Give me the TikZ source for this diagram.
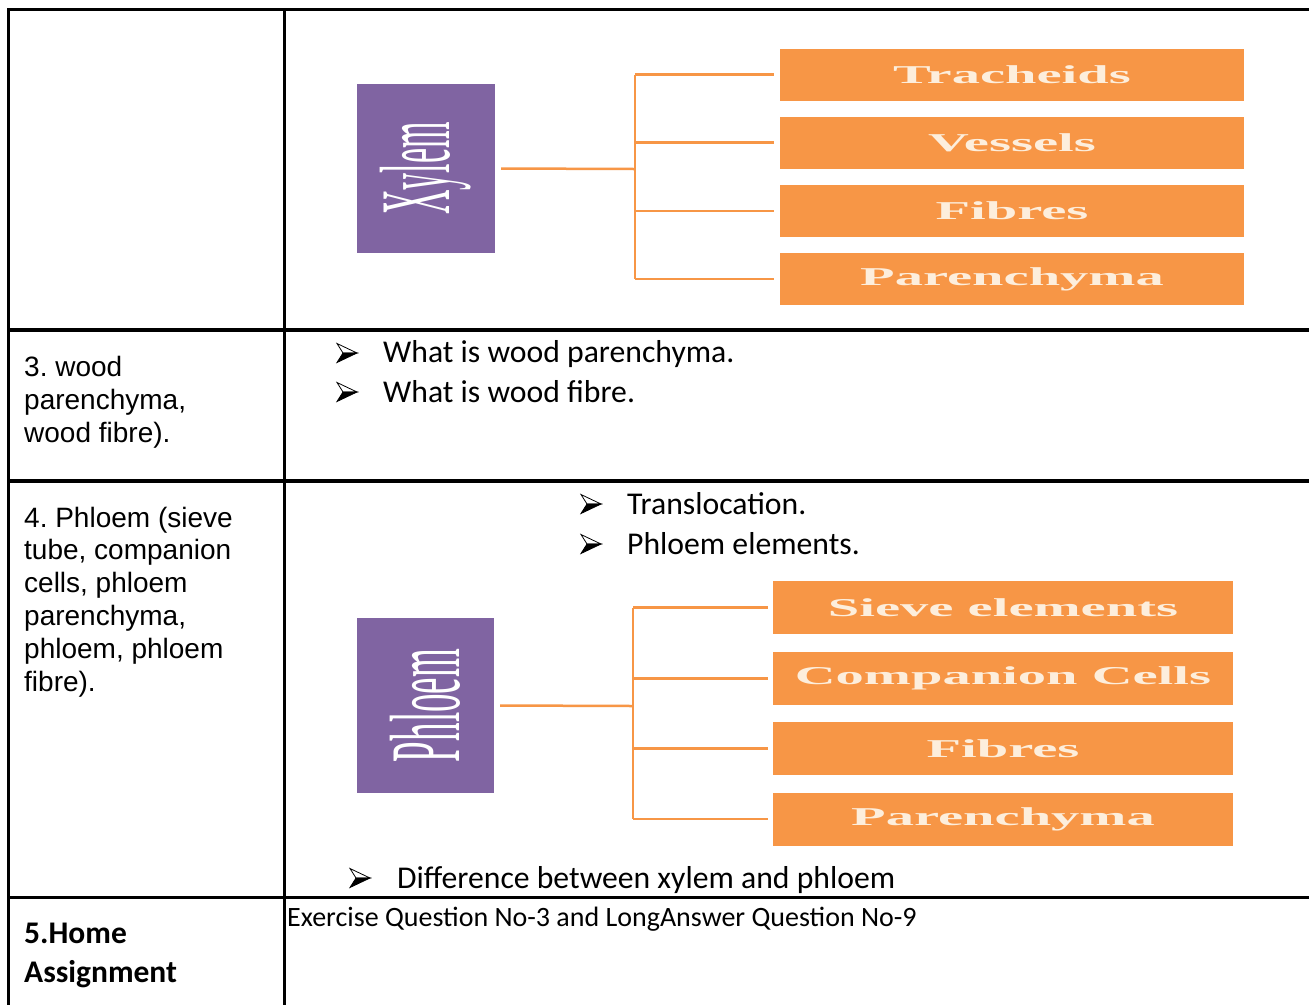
\documentclass[tikz,border=0pt]{standalone}
\usepackage{fontspec}
\setmainfont{Carlito}
\newfontfamily\arialf{Liberation Sans}
\newfontfamily\seriff{Liberation Serif}
\definecolor{purp}{HTML}{8064A2}
\definecolor{orng}{HTML}{F79646}
\definecolor{cream}{HTML}{FDEEDC}
\newcommand{\widetxt}[1]{\scalebox{2.2}[1]{#1}}
\frenchspacing
\begin{document}
\begin{tikzpicture}[x=1pt,y=-1pt,
  gridline/.style={line width=3.2pt,black},
  purpbox/.style={fill=purp,draw=none,inner sep=0,rotate=90,text=white,
    font=\seriff\fontsize{100}{100}\selectfont},
  obox/.style={fill=orng,draw=none,inner sep=0,minimum height=52pt,
    text=cream,font=\seriff\bfseries\fontsize{25.7}{26}\selectfont},
  conn/.style={draw=orng,line width=2.5pt},
  cell/.style={anchor=base west,inner sep=0},
  btext/.style={anchor=base west,inner sep=0,font=\fontsize{31.7}{38}\selectfont},
  arrowbul/.pic={
    \filldraw[fill=white,draw=black,line width=0.8pt,line join=miter] (-10,-9.5) -- (10,0) -- (-4,0) -- cycle;
    \filldraw[fill=black,draw=black,line width=0.8pt,line join=miter] (-4,0) -- (10,0) -- (-10,9.5) -- cycle;
  }
]
\useasboundingbox (0,0) rectangle (1309,1005);
\fill[white] (0,0) rectangle (1309,1005);

% ---- table grid ----
\draw[gridline] (1309,9.5) -- (8.5,9.5) -- (8.5,1005);
\draw[gridline] (284.5,9.5) -- (284.5,1005);
\draw[gridline] (8.5,330) -- (1309,330);
\draw[gridline] (8.5,481) -- (1309,481);
\draw[gridline] (8.5,897.5) -- (1309,897.5);

% ---- Xylem diagram ----
\node[purpbox,minimum width=169pt,minimum height=138pt] (xy) at (426,168.5) {\scalebox{0.34}[1]{Xylem}};
\node[obox,minimum width=464pt] (x1) at (1012,74.5) {\widetxt{Tracheids}};
\node[obox,minimum width=464pt] (x2) at (1012,142.5) {\widetxt{Vessels}};
\node[obox,minimum width=464pt] (x3) at (1012,211) {\widetxt{Fibres}};
\node[obox,minimum width=464pt] (x4) at (1012,279) {\widetxt{Parenchyma}};
\coordinate (xj) at (635,169);
\draw[conn] ([xshift=6pt]xy.south) -- (xj);
\draw[conn] (x1.west -| xj) -- (x4.west -| xj);
\foreach \b in {x1,x2,x3,x4}{\draw[conn] (\b.west -| xj) -- ([xshift=-6pt]\b.west);}

% ---- Phloem diagram ----
\node[purpbox,minimum width=175pt,minimum height=137pt] (ph) at (425.5,705.5) {\scalebox{0.37}[1]{Phloem}};
\node[obox,minimum width=460pt,minimum height=53pt] (p1) at (1003,607.5) {\widetxt{Sieve elements}};
\node[obox,minimum width=460pt,minimum height=53pt] (p2) at (1003,678.5) {\widetxt{Companion Cells}};
\node[obox,minimum width=460pt,minimum height=53pt] (p3) at (1003,748.5) {\widetxt{Fibres}};
\node[obox,minimum width=460pt,minimum height=53pt] (p4) at (1003,819) {\widetxt{Parenchyma}};
\coordinate (pj) at (633,706);
\draw[conn] ([xshift=6pt]ph.south) -- (pj);
\draw[conn] (p1.west -| pj) -- (p4.west -| pj);
\foreach \b in {p1,p2,p3,p4}{\draw[conn] (\b.west -| pj) -- ([xshift=-5pt]\b.west);}

% ---- left column ----
\node[cell,font=\arialf\fontsize{28}{33}\selectfont] (c3) at (24,376)
  {\begin{tabular}[t]{@{}l@{}}3. wood\\parenchyma,\\wood fibre).\end{tabular}};
\node[cell,font=\arialf\fontsize{28}{32.8}\selectfont] (c4) at (24,527)
  {\begin{tabular}[t]{@{}l@{}}4. Phloem (sieve\\tube, companion\\cells, phloem\\parenchyma,\\phloem, phloem\\fibre).\end{tabular}};
\node[cell,font=\bfseries\fontsize{31.5}{39}\selectfont] (c5) at (24,943)
  {\begin{tabular}[t]{@{}l@{}}5.Home\\Assignment\end{tabular}};

% ---- bullets ----
\pic at (347,353) {arrowbul};
\node[btext] (t1) at (383,362) {What is wood parenchyma.};
\pic at (347,392) {arrowbul};
\node[btext] (t2) at (383,402) {What is wood fibre.};
\pic at (591,504) {arrowbul};
\node[btext] (t3) at (627,514) {Translocation.};
\pic at (591,544) {arrowbul};
\node[btext] (t4) at (627,554) {Phloem elements.};
\pic at (360,878) {arrowbul};
\node[btext] (t5) at (397,888) {Difference between xylem and phloem};

\node[cell,font=\fontsize{28}{34}\selectfont] (hw) at (287,926) {Exercise Question No-3 and LongAnswer Question No-9};
\end{tikzpicture}
\end{document}
